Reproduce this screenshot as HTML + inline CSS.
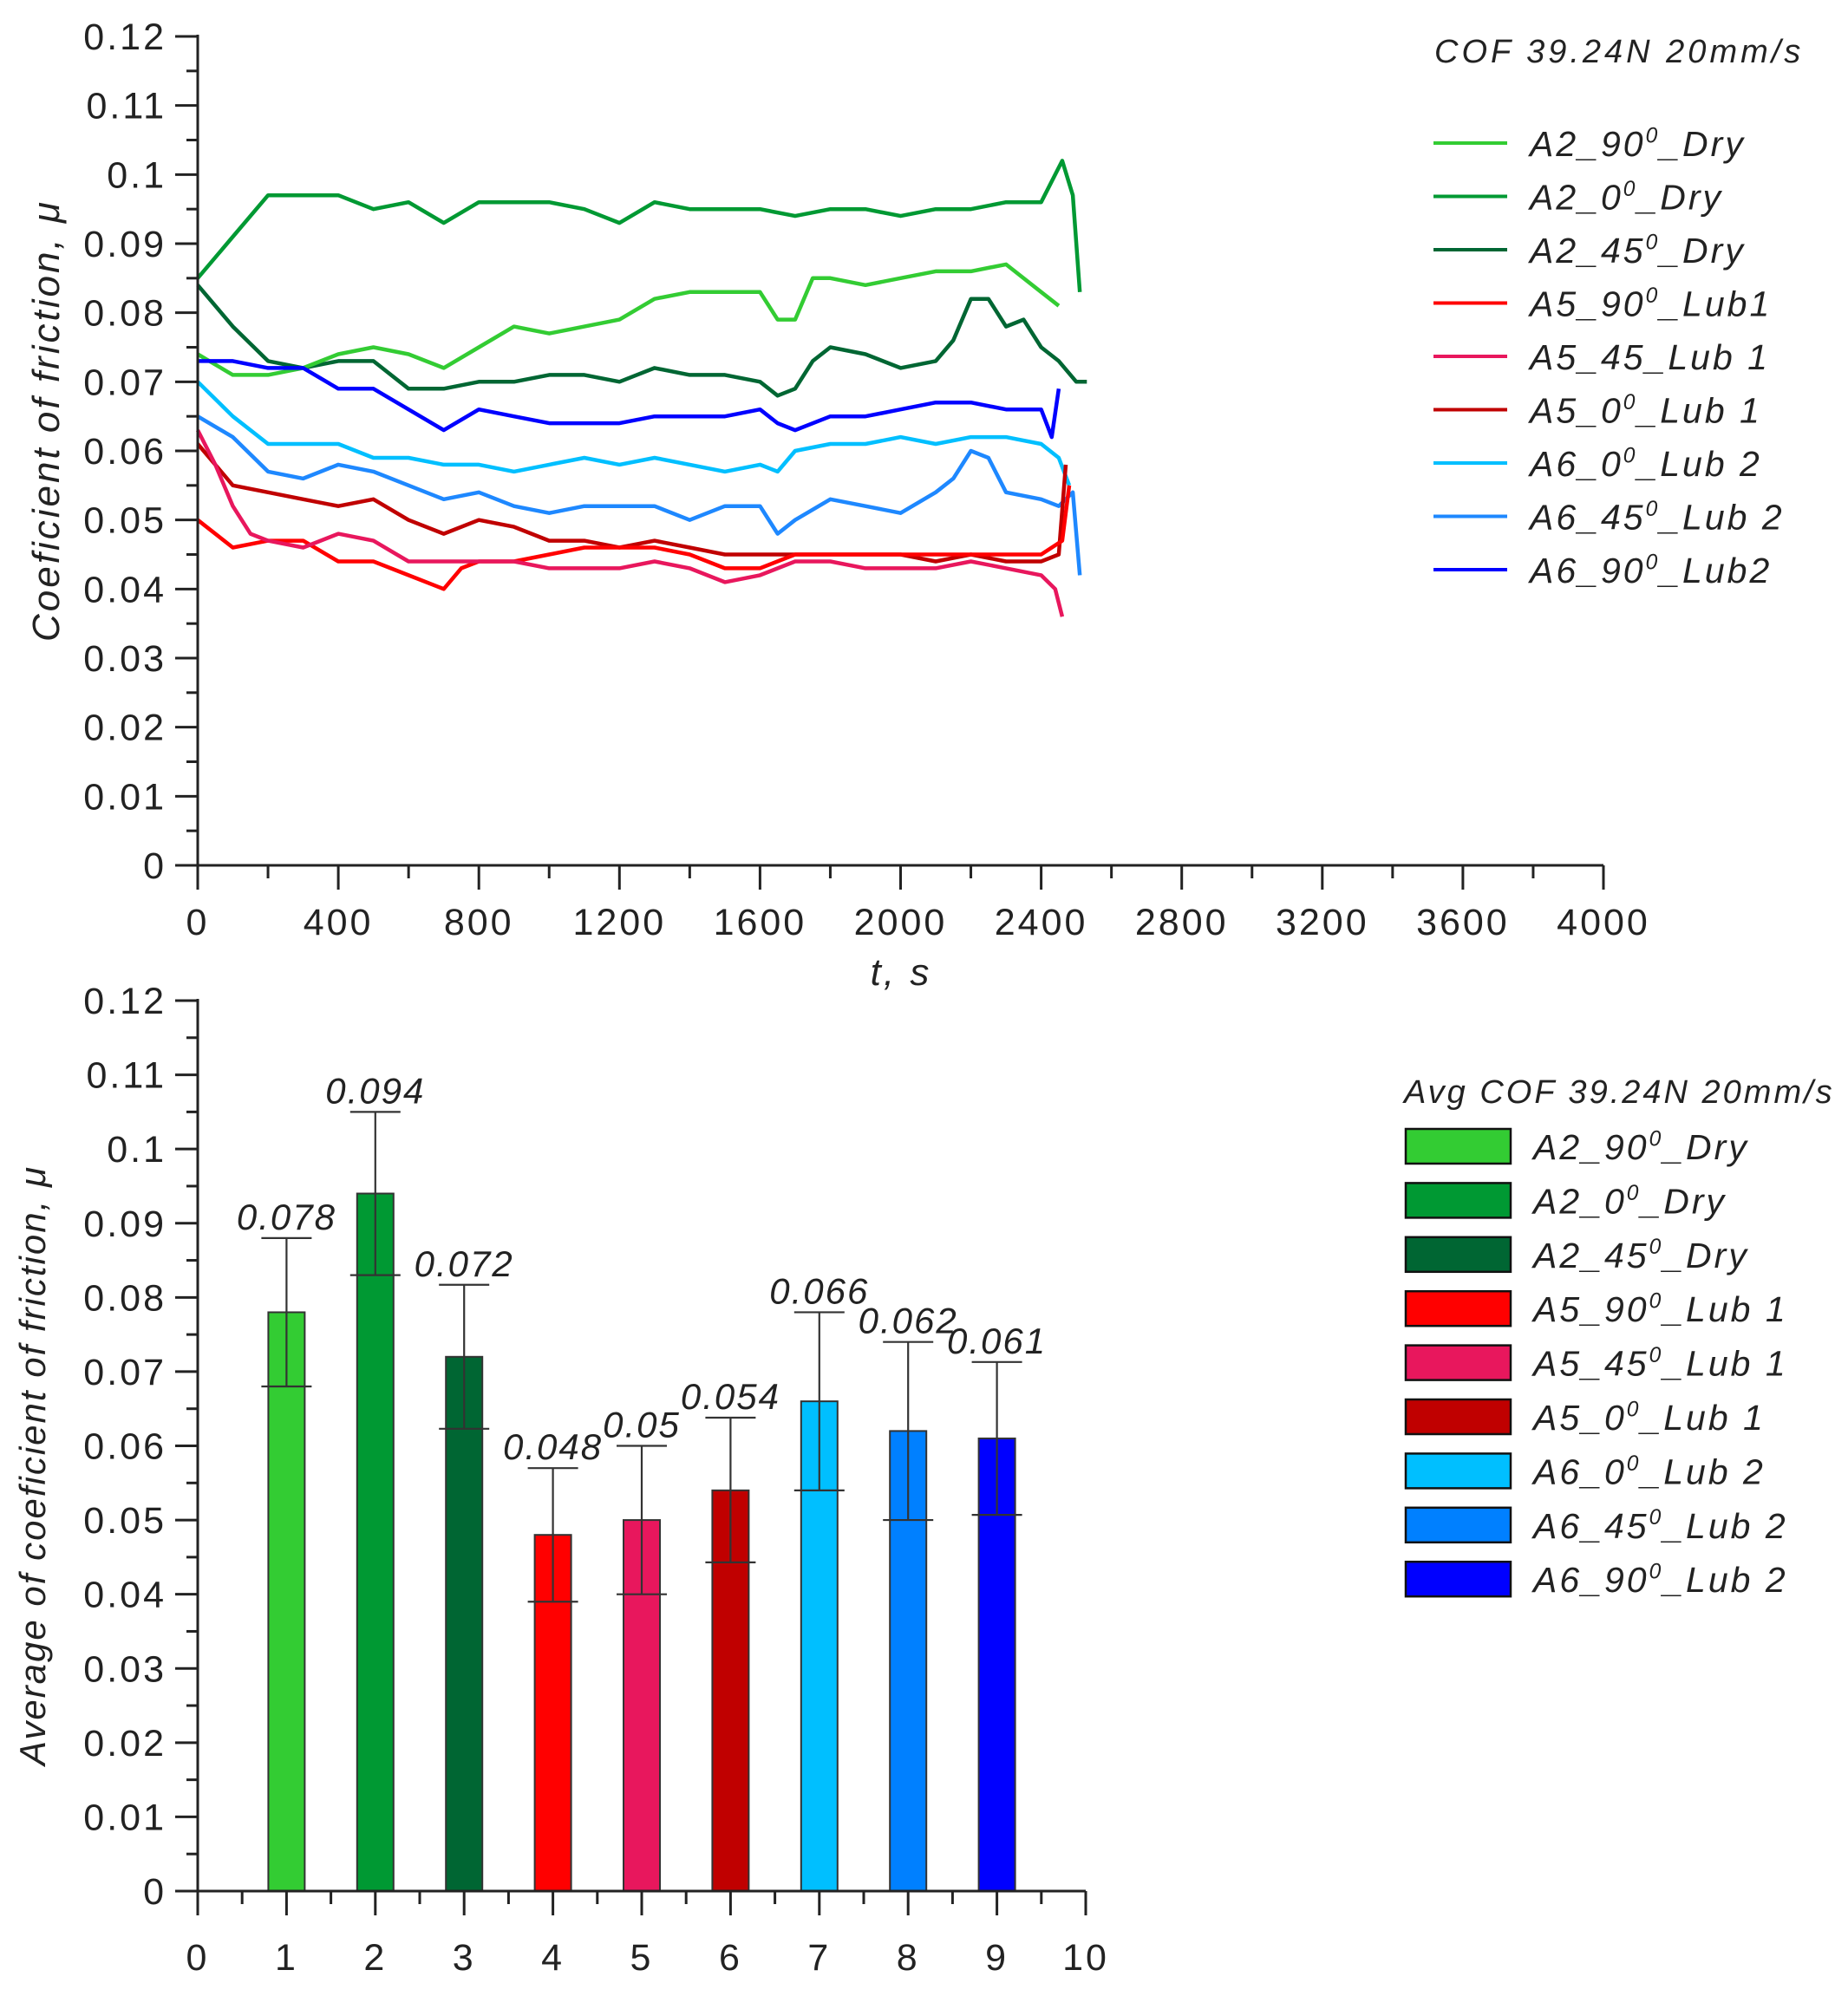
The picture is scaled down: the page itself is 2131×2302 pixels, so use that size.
<!DOCTYPE html>
<html><head><meta charset="utf-8"><style>
html,body{margin:0;padding:0;background:#fff}
svg{display:block;font-family:"Liberation Sans",Arial,sans-serif}
</style></head><body>
<svg id="s" width="2131" height="2302" viewBox="0 0 2131 2302"></svg>
<script>
// ---- Top chart data ----
const lineNames=["A2_90","A2_0","A2_45","A5_90","A5_45","A5_0","A6_0","A6_45","A6_90"];
const lineColors=["#33cc33","#009933","#006633","#ff0000","#e8175d","#c00000","#00bfff","#1e88ff","#0000ff"];
const legendLabels=[["A2_90","0","_Dry"],["A2_0","0","_Dry"],["A2_45","0","_Dry"],["A5_90","0","_Lub1"],["A5_45_Lub 1","",""],["A5_0","0","_Lub 1"],["A6_0","0","_Lub 2"],["A6_45","0","_Lub 2"],["A6_90","0","_Lub2"]];
const tA2_90=[0,100,200,300,400,500,600,700,800,900,1000,1100,1200,1300,1400,1500,1600,1650,1700,1750,1800,1900,2000,2100,2200,2300,2400,2450];
const vA2_90=[0.074,0.071,0.071,0.072,0.074,0.075,0.074,0.072,0.075,0.078,0.077,0.078,0.079,0.082,0.083,0.083,0.083,0.079,0.079,0.085,0.085,0.084,0.085,0.086,0.086,0.087,0.083,0.081];
const tA2_0=[0,100,200,300,400,500,600,700,800,900,1000,1100,1200,1300,1400,1500,1600,1700,1800,1900,2000,2100,2200,2300,2400,2460,2490,2510];
const vA2_0=[0.085,0.091,0.097,0.097,0.097,0.095,0.096,0.093,0.096,0.096,0.096,0.095,0.093,0.096,0.095,0.095,0.095,0.094,0.095,0.095,0.094,0.095,0.095,0.096,0.096,0.102,0.097,0.083];
const tA2_45=[0,100,200,300,400,500,600,700,800,900,1000,1100,1200,1300,1400,1500,1600,1650,1700,1750,1800,1900,2000,2100,2150,2200,2250,2300,2350,2400,2450,2500,2530];
const vA2_45=[0.084,0.078,0.073,0.072,0.073,0.073,0.069,0.069,0.070,0.070,0.071,0.071,0.070,0.072,0.071,0.071,0.070,0.068,0.069,0.073,0.075,0.074,0.072,0.073,0.076,0.082,0.082,0.078,0.079,0.075,0.073,0.070,0.070];
const tA5_90=[0,100,200,300,400,500,600,700,750,800,900,1000,1100,1200,1300,1400,1500,1600,1700,1800,1900,2000,2100,2200,2300,2400,2460,2480];
const vA5_90=[0.050,0.046,0.047,0.047,0.044,0.044,0.042,0.040,0.043,0.044,0.044,0.045,0.046,0.046,0.046,0.045,0.043,0.043,0.045,0.045,0.045,0.045,0.045,0.045,0.045,0.045,0.047,0.055];
const tA5_45=[0,50,100,150,200,300,400,500,600,700,800,900,1000,1100,1200,1300,1400,1500,1600,1700,1800,1900,2000,2100,2200,2300,2400,2440,2460];
const vA5_45=[0.063,0.058,0.052,0.048,0.047,0.046,0.048,0.047,0.044,0.044,0.044,0.044,0.043,0.043,0.043,0.044,0.043,0.041,0.042,0.044,0.044,0.043,0.043,0.043,0.044,0.043,0.042,0.040,0.036];
const tA5_0=[0,100,200,300,400,500,600,700,800,900,1000,1100,1200,1300,1400,1500,1600,1700,1800,1900,2000,2100,2200,2300,2400,2450,2470];
const vA5_0=[0.061,0.055,0.054,0.053,0.052,0.053,0.050,0.048,0.050,0.049,0.047,0.047,0.046,0.047,0.046,0.045,0.045,0.045,0.045,0.045,0.045,0.044,0.045,0.044,0.044,0.045,0.058];
const tA6_0=[0,100,200,300,400,500,600,700,800,900,1000,1100,1200,1300,1400,1500,1600,1650,1700,1800,1900,2000,2100,2200,2300,2400,2450,2480];
const vA6_0=[0.070,0.065,0.061,0.061,0.061,0.059,0.059,0.058,0.058,0.057,0.058,0.059,0.058,0.059,0.058,0.057,0.058,0.057,0.060,0.061,0.061,0.062,0.061,0.062,0.062,0.061,0.059,0.055];
const tA6_45=[0,100,200,300,400,500,600,700,800,900,1000,1100,1200,1300,1400,1500,1600,1650,1700,1800,1900,2000,2100,2150,2200,2250,2300,2400,2450,2490,2510];
const vA6_45=[0.065,0.062,0.057,0.056,0.058,0.057,0.055,0.053,0.054,0.052,0.051,0.052,0.052,0.052,0.050,0.052,0.052,0.048,0.050,0.053,0.052,0.051,0.054,0.056,0.060,0.059,0.054,0.053,0.052,0.054,0.042];
const tA6_90=[0,100,200,300,400,500,600,700,800,900,1000,1100,1200,1300,1400,1500,1600,1650,1700,1800,1900,2000,2100,2200,2300,2400,2430,2450];
const vA6_90=[0.073,0.073,0.072,0.072,0.069,0.069,0.066,0.063,0.066,0.065,0.064,0.064,0.064,0.065,0.065,0.065,0.066,0.064,0.063,0.065,0.065,0.066,0.067,0.067,0.066,0.066,0.062,0.069];
const topXTicks=["0","400","800","1200","1600","2000","2400","2800","3200","3600","4000"];
const topYTicks=["0","0.01","0.02","0.03","0.04","0.05","0.06","0.07","0.08","0.09","0.1","0.11","0.12"];
// ---- Bottom chart data ----
const barCats=[1,2,3,4,5,6,7,8,9];
const barVals=[0.078,0.094,0.072,0.048,0.050,0.054,0.066,0.062,0.061];
const barLo=[0.068,0.083,0.0623,0.039,0.040,0.0443,0.054,0.050,0.0507];
const barHi=[0.088,0.105,0.0817,0.057,0.060,0.0638,0.078,0.074,0.0713];
const barLabels=["0.078","0.094","0.072","0.048","0.05","0.054","0.066","0.062","0.061"];
const barColors=["#33cc33","#009933","#006633","#ff0000","#e8175d","#c00000","#00bfff","#0080ff","#0000ff"];
const barLegend=[["A2_90","0","_Dry"],["A2_0","0","_Dry"],["A2_45","0","_Dry"],["A5_90","0","_Lub 1"],["A5_45","0","_Lub 1"],["A5_0","0","_Lub 1"],["A6_0","0","_Lub 2"],["A6_45","0","_Lub 2"],["A6_90","0","_Lub 2"]];
const botXTicks=["0","1","2","3","4","5","6","7","8","9","10"];

const NS="http://www.w3.org/2000/svg";const svg=document.getElementById('s');
function mk(tag,attrs,parent,text){const e=document.createElementNS(NS,tag);for(const k in attrs)e.setAttribute(k,attrs[k]);if(text!==undefined)e.textContent=text;(parent||svg).appendChild(e);return e;}
function lab(parent,x,y,parts,size){const t=mk('text',{x:x,y:y,'font-size':size,'font-style':'italic',fill:'#222','letter-spacing':3},parent);
 mk('tspan',{},t,parts[0]);if(parts[1]){mk('tspan',{'font-size':size*0.6,dy:-size*0.38},t,parts[1]);mk('tspan',{dy:size*0.38},t,parts[2]);}return t;}
const TICKF=43, TICKLS=3;

// Top axes
const TX0=228,TX1=1849,TY0=998,TY1=42;
const tx=v=>TX0+v/4000*(TX1-TX0), ty=v=>TY0-v/0.12*(TY0-TY1);
const gTop=mk('g',{});


const series=[[tA2_90,vA2_90],[tA2_0,vA2_0],[tA2_45,vA2_45],[tA5_90,vA5_90],[tA5_45,vA5_45],[tA5_0,vA5_0],[tA6_0,vA6_0],[tA6_45,vA6_45],[tA6_90,vA6_90]];
const drawOrder=[2,0,1,8,6,7,5,3,4];
drawOrder.forEach(i=>{const [t,v]=series[i];const d=t.map((tt,k)=>(k?'L':'M')+tx(tt).toFixed(1)+','+ty(v[k]).toFixed(1)).join('');
 const p=mk('path',{d:d,fill:'none',stroke:lineColors[i],'stroke-width':4.5,'stroke-linejoin':'round'},gTop);
 
 });
mk('line',{x1:TX0,y1:TY0,x2:TX1,y2:TY0,stroke:'#222','stroke-width':3},gTop);
mk('line',{x1:TX0,y1:TY0,x2:TX0,y2:TY1-2,stroke:'#222','stroke-width':3},gTop);
for(let i=0;i<=24;i++){const v=i*0.005;const maj=i%2==0;mk('line',{x1:TX0-(maj?26:13),y1:ty(v),x2:TX0,y2:ty(v),stroke:'#222','stroke-width':3},gTop);}
topYTicks.forEach((s,i)=>{const t=mk('text',{x:TX0-36,y:ty(i*0.01)+15,'font-size':TICKF,'letter-spacing':TICKLS,'text-anchor':'end',fill:'#222'},gTop,s);
 });
for(let i=0;i<=20;i++){const v=i*200;const maj=i%2==0;mk('line',{x1:tx(v),y1:TY0,x2:tx(v),y2:TY0+(maj?28:15),stroke:'#222','stroke-width':3},gTop);}
topXTicks.forEach((s,i)=>{const t=mk('text',{x:tx(i*400),y:1078,'font-size':TICKF,'letter-spacing':TICKLS,'text-anchor':'middle',fill:'#222'},gTop,s);
 });
const xt=mk('text',{x:1039,y:1136,'font-size':44,'letter-spacing':3,'font-style':'italic','text-anchor':'middle',fill:'#222'},gTop,'t, s');

const yt=mk('text',{x:0,y:0,'font-size':44,'letter-spacing':3,'font-style':'italic','text-anchor':'middle',fill:'#222',transform:'translate(68,485) rotate(-90)'},gTop,'Coeficient of friction, μ');

// top legend
const lg=mk('g',{},gTop);

mk('text',{x:1654,y:72,'font-size':38,'letter-spacing':4,'font-style':'italic',fill:'#222'},lg,'COF 39.24N 20mm/s');
legendLabels.forEach((p,i)=>{const y=165+i*61.5;
 const e=mk('line',{x1:1653,y1:y,x2:1738,y2:y,stroke:lineColors[i],'stroke-width':4},lg);
 
 lab(lg,1764,y+15,p,41);});

// Bottom chart
const BX0=228,BX1=1252,BY0=2181,BY1=1154;
const bx=v=>BX0+v/10*(BX1-BX0), by=v=>BY0-v/0.12*(BY0-BY1);
const gB=mk('g',{});

barCats.forEach((c,i)=>{const w=42;
 const r=mk('rect',{x:bx(c)-w/2,y:by(barVals[i]),width:w,height:BY0-by(barVals[i]),fill:barColors[i],stroke:'#333','stroke-width':2},gB);
 
 const eb=mk('g',{stroke:'#333','stroke-width':2.2},gB);
 
 mk('line',{x1:bx(c),y1:by(barHi[i]),x2:bx(c),y2:by(barLo[i])},eb);
 mk('line',{x1:bx(c)-29,y1:by(barHi[i]),x2:bx(c)+29,y2:by(barHi[i])},eb);
 mk('line',{x1:bx(c)-29,y1:by(barLo[i]),x2:bx(c)+29,y2:by(barLo[i])},eb);
 const t=mk('text',{x:bx(c),y:by(barHi[i])-10,'font-size':42,'letter-spacing':2,'font-style':'italic','text-anchor':'middle',fill:'#222'},gB,barLabels[i]);
 });
mk('line',{x1:BX0,y1:BY0,x2:BX1,y2:BY0,stroke:'#222','stroke-width':3},gB);
mk('line',{x1:BX0,y1:BY0,x2:BX0,y2:BY1-2,stroke:'#222','stroke-width':3},gB);
for(let i=0;i<=24;i++){const v=i*0.005;const maj=i%2==0;mk('line',{x1:BX0-(maj?26:13),y1:by(v),x2:BX0,y2:by(v),stroke:'#222','stroke-width':3},gB);}
topYTicks.forEach((s,i)=>{const t=mk('text',{x:BX0-36,y:by(i*0.01)+15,'font-size':TICKF,'letter-spacing':TICKLS,'text-anchor':'end',fill:'#222'},gB,s);
 });
for(let i=0;i<=20;i++){const v=i*0.5;const maj=i%2==0;mk('line',{x1:bx(v),y1:BY0,x2:bx(v),y2:BY0+(maj?28:15),stroke:'#222','stroke-width':3},gB);}
botXTicks.forEach((s,i)=>{const t=mk('text',{x:bx(i),y:2272,'font-size':TICKF,'letter-spacing':TICKLS,'text-anchor':'middle',fill:'#222'},gB,s);
 });
const yt2=mk('text',{x:0,y:0,'font-size':42,'letter-spacing':2,'font-style':'italic','text-anchor':'middle',fill:'#222',transform:'translate(52,1690) rotate(-90)'},gB,'Average of coeficient of friction, μ');

const lg2=mk('g',{},gB);

mk('text',{x:1619,y:1272,'font-size':38,'letter-spacing':3,'font-style':'italic',fill:'#222'},lg2,'Avg COF 39.24N 20mm/s');
barLegend.forEach((p,i)=>{const y=1302+i*62.4;
 const e=mk('rect',{x:1621,y:y,width:121,height:40,fill:barColors[i],stroke:'#111','stroke-width':2.5},lg2);
 
 lab(lg2,1768,y+35,p,41);});
</script>
</body></html>
